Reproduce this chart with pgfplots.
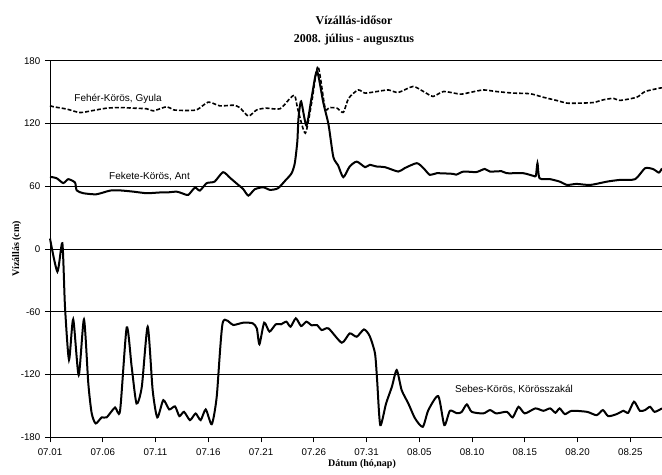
\documentclass[border=0pt]{standalone}
\usepackage{fontspec}
\setmainfont{Liberation Sans}
\newfontfamily\timesfont{Liberation Serif}
\usepackage{pgfplots}
\pgfplotsset{compat=1.18}

% Fekete-Körös, Ant  (day index from 07.01, cm)
\pgfplotstableread{
d v
0 69
0.63 67.6
1.26 63
1.73 66.7
2.37 63.5
2.53 56
3.16 53.3
4.4 52.3
5.69 55.8
6.6 56
7.9 54.8
9.17 53.3
10.4 54
11.06 54
12 54.8
12.5 53.3
13.1 51.7
13.74 58.7
14.2 55.8
14.85 62.9
15.6 64.4
16.4 73.4
17.06 68
17.85 61.2
18.3 57.4
18.8 51
19.4 57
20.2 59
20.85 56.5
21.6 58
22.3 65.4
22.9 72.4
23.2 82
23.44 102.7
23.55 125
23.8 141
24.3 118
24.8 145
25.3 170
25.9 140
26.4 118.7
26.85 88
27.3 80
27.8 68.6
28.4 78.8
29.07 83.5
29.86 78.2
30.3 80.4
30.97 78.8
31.75 78.2
33 74
33.6 77.2
34.76 82
35.4 77.2
36 70.8
36.65 72.4
38.2 71.8
38.5 71
39.2 74
40.4 73.5
41.2 76.5
41.7 74
42.8 74.3
43.3 72.4
44.86 72.4
45.8 69.9
46.05 70
46.2 82
46.4 67.6
47.4 66.7
48.3 64.4
49 61.2
49.9 62.2
51.2 61.2
52.8 64.4
54 66
55.45 66.7
56.4 77.2
57.2 76.2
57.7 73
58 77
}\fekete

% Fehér-Körös, Gyula
\pgfplotstableread{
d v
0 137
0.3 136
1.6 133.7
2.84 130.4
4.1 132.4
5.37 134.6
6.64 135.2
7.9 134.6
9.17 134
9.8 132
11.06 136
11.7 133
12.6 132.4
13.9 133
15 140.4
16.1 136.8
17.4 137.4
18 135
18.8 127
19.6 133
20.5 134.6
21.8 134
22.75 144
23.2 146.6
23.5 133
24.2 110.7
24.8 140
25.4 174.5
26.07 134.6
26.5 135.2
27.2 134.6
27.8 130.6
28.3 144
29.2 152
29.86 149
30.97 150.5
32.07 152
33 149.6
34.4 155.3
35.4 150.5
36.3 145.8
37.3 150.5
38.9 148
39.8 149.6
41.07 152
42.3 150.5
43.9 149
45.5 148.4
46.76 145
48 142
49 139.4
50.2 139.4
51.5 140
52.45 142.6
53.4 144
54 142
55.6 145
56.4 150.5
57.8 153.8
58 154
}\feher

% Sebes-Körös, Körösszakál
\pgfplotstableread{
d v
0 10
0.7 -21.7
1.17 5.5
1.42 -55
1.8 -106
2.2 -67.3
2.72 -120.6
3.22 -67.3
3.63 -128.5
3.95 -157
4.33 -166.8
4.9 -161
5.37 -161
6.16 -151.5
6.64 -154.7
7.27 -75
7.74 -112.6
8.2 -147.7
8.7 -131.8
9.26 -74.3
9.73 -135
10.17 -161
10.74 -144.5
11.3 -153.4
11.85 -150.5
12.26 -159.8
12.7 -155.7
13.27 -163.6
13.8 -157.3
14.28 -163.6
14.76 -153.4
15.33 -167.5
15.8 -141.3
16.37 -70.5
17.37 -72.7
18.3 -70.5
19.2 -71
19.6 -76
19.85 -91
20.3 -70.5
20.8 -79
21.4 -72
21.9 -72
22.4 -69.5
22.8 -74.3
23.3 -66.3
23.8 -73.7
24.3 -69.5
24.8 -73
25.3 -72.7
25.75 -77.5
26.4 -76
27.65 -89.6
28.4 -80.7
29.07 -83.9
29.76 -76.9
30.3 -83.3
30.8 -99.8
31.0 -125
31.3 -168.4
31.85 -147.7
32.4 -131.8
32.86 -115.8
33.33 -135
33.96 -147.7
34.6 -162
35.33 -170
35.86 -154
36.8 -140.7
37.37 -168.4
37.9 -154.7
38.55 -157
39 -156
39.5 -148.6
39.97 -155.7
41.07 -157.2
41.7 -154
42.3 -157.2
43.3 -155.7
43.85 -161
44.4 -150.9
45 -157.2
46 -152.4
46.76 -154.7
47.4 -152.4
47.9 -156.6
48.3 -152.4
48.8 -157.9
49.45 -154.7
50.9 -155.7
51.8 -158.9
52.4 -154
52.9 -159.8
53.7 -157.9
54.35 -154.7
54.8 -156.6
55.35 -146
55.9 -154.7
56.4 -154
56.87 -150.9
57.3 -155.7
58 -152.4
}\sebes

\begin{document}
\begin{tikzpicture}
\useasboundingbox (-37.5pt,-28.3pt) rectangle (459pt,327.95pt);
\begin{axis}[
    scale only axis,
    width=459pt, height=282.45pt,
    xmin=0, xmax=58, ymin=-180, ymax=180,
    axis lines=left,
    axis line style={-, black, line width=0.6pt},
    xtick={0,5,...,55},
    xticklabels={07.01,07.06,07.11,07.16,07.21,07.26,07.31,08.05,08.10,08.15,08.20,08.25},
    ytick={-180,-120,...,180},
    tick align=outside,
    major tick length=3.75pt,
    tick style={black, line width=0.6pt},
    ymajorgrids=true,
    major grid style={black, line width=0.6pt},
    /pgf/number format/assume math mode=true,
    ticklabel style={font=\fontsize{7.3}{8}\selectfont},
    xticklabel style={yshift=-1.5pt},
    clip=false,
]
\addplot[black, line width=1.2pt, dash pattern=on 3pt off 1.5pt, smooth, tension=0.4] table[x=d, y=v] {\feher};
\addplot[black, line width=1.5pt, smooth, tension=0.4] table[x=d, y=v] {\fekete};
\addplot[black, line width=1.5pt, smooth, tension=0.4] table[x=d, y=v] {\sebes};

\node[font=\fontsize{7.5}{9}\selectfont] at (axis cs:6.45,143.2) {Fehér-Körös, Gyula};
\node[font=\fontsize{7.5}{9}\selectfont] at (axis cs:9.43,69.2) {Fekete-Körös, Ant};
\node[font=\fontsize{7.5}{9}\selectfont] at (axis cs:43.98,-134) {Sebes-Körös, Körösszakál};
\end{axis}
\node[anchor=base, font=\timesfont\bfseries\fontsize{9}{11}\selectfont] at (228pt,309.6pt) {Vízállás-idősor};
\node[anchor=base, font=\timesfont\bfseries\fontsize{9}{11}\selectfont] at (228pt,296.1pt) {2008. július - augusztus};
\node[anchor=base, font=\timesfont\bfseries\fontsize{7.5}{9}\selectfont] at (234pt,-22pt) {Dátum (hó,nap)};
\node[anchor=base, rotate=90, font=\timesfont\bfseries\fontsize{7.5}{9}\selectfont] at (-23.25pt,141.2pt) {Vízállás (cm)};
\end{tikzpicture}
\end{document}
